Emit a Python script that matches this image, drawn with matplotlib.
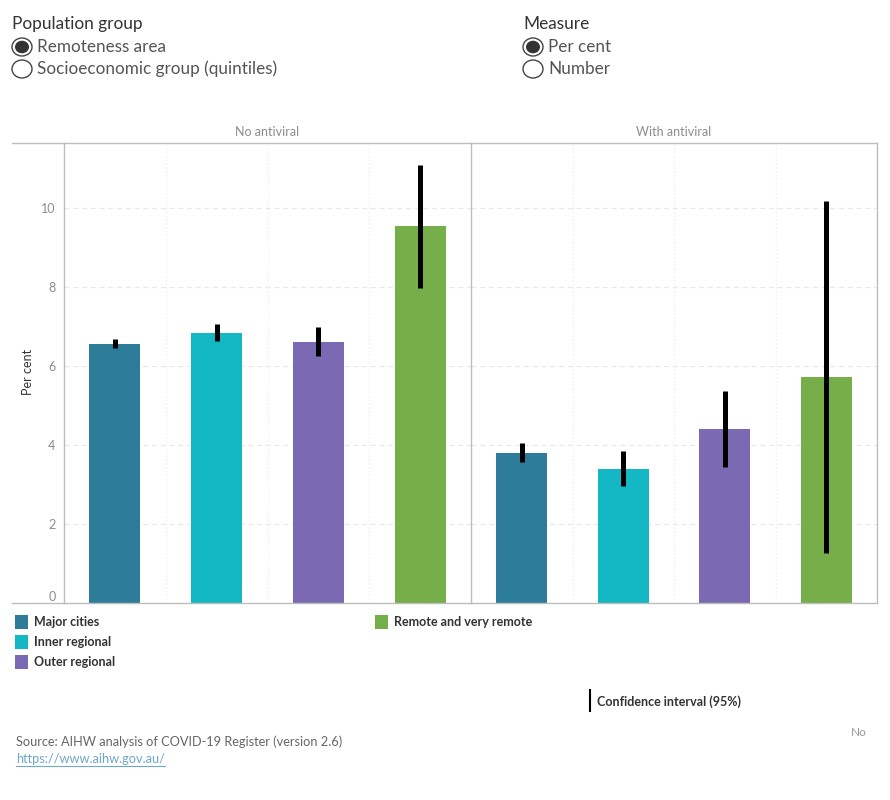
import matplotlib
matplotlib.use("Agg")
import matplotlib.pyplot as plt
from matplotlib.lines import Line2D
from matplotlib.patches import Circle, Rectangle
import numpy as np

plt.rcParams['font.family'] = ['Lato', 'DejaVu Sans']

# data
panels = ['No antiviral', 'With antiviral']
areas = ['Major cities', 'Inner regional', 'Outer regional', 'Remote and very remote']
colors = ['#2d7d9a', '#14b8c4', '#7b69b4', '#76ae4a']

no_antiviral = [6.56, 6.84, 6.61, 9.54]
no_antiviral_lo = [6.46, 6.64, 6.24, 7.98]
no_antiviral_hi = [6.68, 7.06, 6.99, 11.09]

with_antiviral = [3.80, 3.39, 4.41, 5.72]
with_antiviral_lo = [3.58, 2.97, 3.44, 1.27]
with_antiviral_hi = [4.05, 3.85, 5.37, 10.16]

yticks = [0, 2, 4, 6, 8, 10]

W, H = 890, 800
fig = plt.figure(figsize=(W / 100, H / 100), dpi=100)


def fx(px):
    return px / W


def fy(py):
    return 1 - py / H


frame_col = '#bdbdbd'
grey_txt = '#8c8c8c'

left, mid, right, top, bottom = 64, 471, 877, 143, 603
series = [(no_antiviral, no_antiviral_lo, no_antiviral_hi),
          (with_antiviral, with_antiviral_lo, with_antiviral_hi)]
bounds = [(left, mid), (mid, right)]

for k, (vals, lo, hi) in enumerate(series):
    x0, x1 = bounds[k]
    ax = fig.add_axes([fx(x0), fy(bottom), fx(x1 - x0), (bottom - top) / H])
    pos = np.arange(len(areas))
    ax.bar(pos, vals, width=0.5, color=colors, zorder=2)
    ax.vlines(pos, lo, hi, color='black', linewidth=3.6, zorder=3)
    ax.set_xlim(-0.5, len(areas) - 0.5)
    ax.set_ylim(0, 11.64)
    for y in yticks[1:]:
        ax.axhline(y, color='#e8e8e8', linewidth=0.9, linestyle=(0, (4, 3)), zorder=0)
    for xg in pos[:-1] + 0.5:
        ax.axvline(xg, color='#ececec', linewidth=0.9, linestyle=(0, (1, 2)), zorder=0)
    ax.set_xticks([])
    for s in ax.spines.values():
        s.set_color(frame_col)
        s.set_linewidth(1)
    if k == 0:
        ax.set_yticks(yticks)
        ax.set_yticklabels([str(t) for t in yticks], color=grey_txt, fontsize=9)
        ax.tick_params(axis='y', length=0, pad=6)
        ax.get_yticklabels()[0].set_verticalalignment('bottom')
        ax.spines['right'].set_visible(False)
    else:
        ax.set_yticks([])
    ax.set_title(panels[k], fontsize=9, color=grey_txt, pad=5)

# outer frame pieces extending over the axis label area
fig.add_artist(Line2D([fx(12), fx(left)], [fy(top), fy(top)], color=frame_col, linewidth=1))
fig.add_artist(Line2D([fx(12), fx(left)], [fy(bottom), fy(bottom)], color=frame_col, linewidth=1))
fig.text(fx(28), fy(372), 'Per cent', rotation=90, ha='center', va='center', fontsize=9, color='#333333')

# controls at the top
fig.text(fx(12), fy(24), 'Population group', fontsize=12.4, color='#333333', va='center')
fig.text(fx(523), fy(24), 'Measure', fontsize=12.4, color='#333333', va='center')
radio = [(22, 47, 'Remoteness area', True), (22, 69, 'Socioeconomic group (quintiles)', False),
         (533, 47, 'Per cent', True), (533, 69, 'Number', False)]
for cx, cy, label, on in radio:
    fig.add_artist(Circle((fx(cx), fy(cy)), 10 / W, transform=fig.transFigure,
                          facecolor='white', edgecolor='#444444', linewidth=1))
    if on:
        fig.add_artist(Circle((fx(cx), fy(cy)), 7 / W, transform=fig.transFigure,
                              facecolor='#333333', edgecolor='none'))
    fig.text(fx(cx + 15), fy(cy), label, fontsize=12.3, color='#555555', va='center')

# legend
legend_pos = [(15, 622), (15, 642), (15, 662), (375, 622)]
for (lx, ly), name, c in zip(legend_pos, areas, colors):
    fig.add_artist(Rectangle((fx(lx), fy(ly + 7)), 13 / W, 14 / H, transform=fig.transFigure,
                             facecolor=c, edgecolor='none'))
    fig.text(fx(lx + 19), fy(ly), name, fontsize=9, fontweight='bold', color='#333333', va='center')

fig.add_artist(Line2D([fx(590), fx(590)], [fy(690), fy(711)], color='black', linewidth=1.5))
fig.text(fx(597), fy(702), 'Confidence interval (95%)', fontsize=9, fontweight='bold',
         color='#333333', va='center')
fig.text(fx(851), fy(732), 'No', fontsize=8.5, color='#999999', va='center')

fig.text(fx(16), fy(742), 'Source: AIHW analysis of COVID-19 Register (version 2.6)', fontsize=9.2,
         color='#666666', va='center')
fig.text(fx(16), fy(759), 'https://www.aihw.gov.au/', fontsize=9.2, color='#6fa8c8', va='center')
fig.add_artist(Line2D([fx(16), fx(165)], [fy(766), fy(766)], color='#6fa8c8', linewidth=0.8))

fig.savefig('out.png', dpi=100)
